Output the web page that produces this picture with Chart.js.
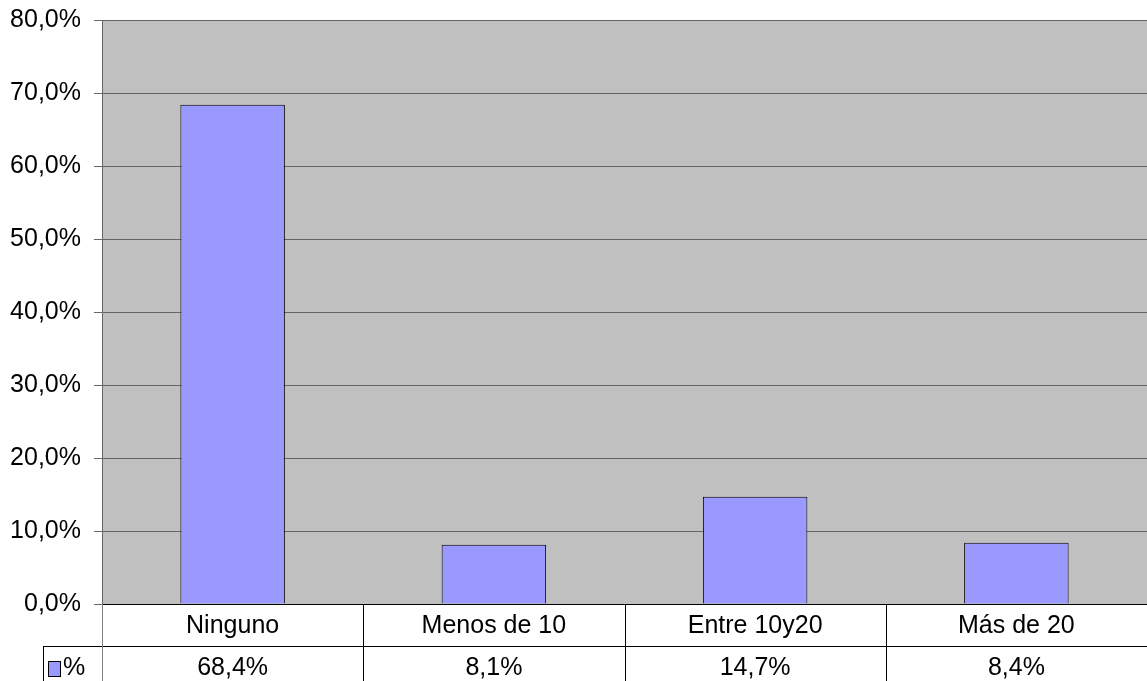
<!DOCTYPE html>
<html>
<head>
<meta charset="utf-8">
<script src="https://cdn.jsdelivr.net/npm/chart.js@4/dist/chart.umd.min.js"></script>
<style>
  html, body { margin: 0; padding: 0; background: #fff; }
  #wrap { width: 1147px; height: 681px; }
</style>
</head>
<body>
<div id="wrap"><canvas id="myChart" width="1147" height="681"></canvas></div>
<script>
// Datos
const categorias = ["Ninguno", "Menos de 10", "Entre 10y20", "Más de 20"];
const valores = [68.4, 8.1, 14.7, 8.4];
const serie = "%";
const yTicks = [0, 10, 20, 30, 40, 50, 60, 70, 80];

const fuente = "'Liberation Sans', Arial, sans-serif";
const fmt = (v) => v.toFixed(1).replace(".", ",") + "%";

// Fondo gris del área de trazado
const fondo = {
  id: "fondo",
  beforeDraw(chart) {
    const a = chart.chartArea;
    const c = chart.ctx;
    c.save();
    c.fillStyle = "#c0c0c0";
    c.fillRect(a.left, a.top, a.right - a.left, a.bottom - a.top);
    c.restore();
  },
};

// Tabla de datos bajo el gráfico
const tabla = {
  id: "tabla",
  afterDraw(chart) {
    const c = chart.ctx;
    const a = chart.chartArea;
    const x = chart.scales.x;
    const H = chart.height;
    const fila = a.bottom + 42;
    const paso = x.getPixelForValue(1) - x.getPixelForValue(0);
    c.save();
    c.lineWidth = 1;
    c.strokeStyle = "#000";
    c.beginPath();
    c.moveTo(a.left, a.bottom + 0.5);
    c.lineTo(a.right, a.bottom + 0.5);
    c.moveTo(43, fila + 0.5);
    c.lineTo(a.right, fila + 0.5);
    c.moveTo(43.5, fila);
    c.lineTo(43.5, H);
    for (let i = 1; i <= categorias.length; i++) {
      const px = Math.round(x.getPixelForValue(i) - paso / 2) + 0.5;
      c.moveTo(px, a.bottom);
      c.lineTo(px, H);
    }
    c.stroke();
    c.strokeStyle = "#808080";
    c.beginPath();
    c.moveTo(a.left + 0.5, a.bottom);
    c.lineTo(a.left + 0.5, H);
    c.stroke();

    c.fillStyle = "#000";
    c.font = "25px " + fuente;
    c.textAlign = "center";
    c.textBaseline = "middle";
    categorias.forEach((cat, i) => {
      const px = x.getPixelForValue(i);
      c.fillText(cat, px, (a.bottom + fila) / 2 + 1);
      c.fillText(fmt(valores[i]), px, fila + 22);
    });

    // leyenda
    c.fillStyle = "#9999ff";
    c.fillRect(49, 662, 11, 14);
    c.strokeStyle = "#000";
    c.strokeRect(48.5, 661.5, 12, 15);
    c.fillStyle = "#000";
    c.textAlign = "left";
    c.fillText(serie, 63, fila + 22);
    c.restore();
  },
};

new Chart(document.getElementById("myChart"), {
  type: "bar",
  data: {
    labels: categorias,
    datasets: [
      {
        label: serie,
        data: valores,
        backgroundColor: "#9999ff",
        borderColor: "#000",
        borderWidth: 1,
        categoryPercentage: 1,
        barPercentage: 0.4,
      },
    ],
  },
  options: {
    responsive: false,
    animation: false,
    layout: { padding: { top: 20, left: 0, right: 0, bottom: 0 } },
    plugins: {
      legend: { display: false },
      tooltip: { enabled: false },
    },
    scales: {
      x: {
        ticks: { display: false },
        grid: { display: false },
        border: { display: false },
        afterFit(scale) {
          scale.height = 77;
        },
      },
      y: {
        min: 0,
        max: 80,
        afterBuildTicks(scale) {
          scale.ticks = yTicks.map((v) => ({ value: v }));
        },
        ticks: {
          padding: 13,
          color: "#000",
          font: { family: fuente, size: 25 },
          callback: (v) => fmt(v),
        },
        grid: { color: "#666", tickLength: 8, tickColor: "#666" },
        border: { color: "#666" },
        afterFit(scale) {
          scale.width = 102;
          scale.paddingTop = 0;
          scale.paddingBottom = 0;
        },
      },
    },
  },
  plugins: [fondo, tabla],
});
</script>
</body>
</html>
